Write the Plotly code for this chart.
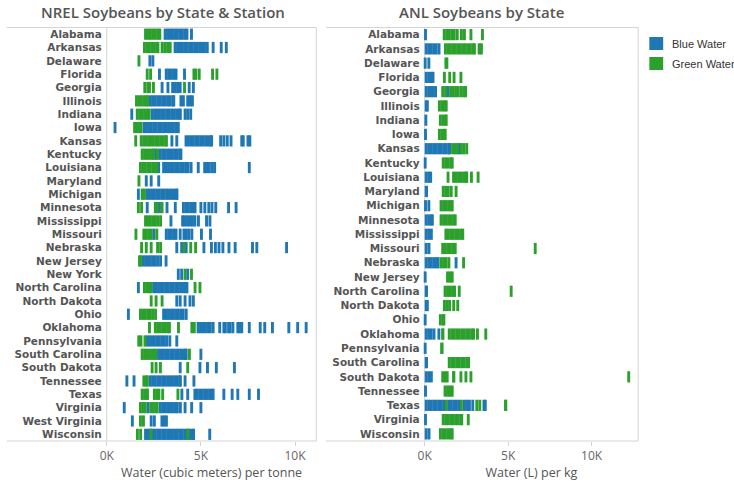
import plotly.graph_objects as go

W, H = 734, 484

NREL_STATES = ["Alabama", "Arkansas", "Delaware", "Florida", "Georgia", "Illinois", "Indiana", "Iowa",
               "Kansas", "Kentucky", "Louisiana", "Maryland", "Michigan", "Minnesota", "Mississippi",
               "Missouri", "Nebraska", "New Jersey", "New York", "North Carolina", "North Dakota", "Ohio",
               "Oklahoma", "Pennsylvania", "South Carolina", "South Dakota", "Tennessee", "Texas",
               "Virginia", "West Virginia", "Wisconsin"]

ANL_STATES = ["Alabama", "Arkansas", "Delaware", "Florida", "Georgia", "Illinois", "Indiana", "Iowa",
              "Kansas", "Kentucky", "Louisiana", "Maryland", "Michigan", "Minnesota", "Mississippi",
              "Missouri", "Nebraska", "New Jersey", "North Carolina", "North Dakota", "Ohio",
              "Oklahoma", "Pennsylvania", "South Carolina", "South Dakota", "Tennessee", "Texas",
              "Virginia", "Wisconsin"]

# NREL: water (thousand cubic meters per tonne), one value per station
NREL_BLUE = {
    "Alabama": [3.1, 3.23, 3.36, 3.49, 3.62, 3.75, 3.88, 4.01, 4.14, 4.26, 4.5],
    "Arkansas": [3.63, 3.76, 3.89, 4.02, 4.15, 4.28, 4.41, 4.54, 4.67, 4.8, 4.93, 5.06, 5.19, 5.34, 5.65, 6.08, 6.35],
    "Delaware": [2.29, 2.45],
    "Florida": [2.8, 3.16, 3.29, 3.42, 3.55, 3.68, 4.13],
    "Georgia": [2.94, 3.25, 3.5, 3.63, 3.76, 3.9, 4.38, 4.6],
    "Illinois": [2.32, 2.45, 2.58, 2.71, 2.84, 2.97, 3.1, 3.23, 3.36, 3.5, 3.56, 3.94, 4.07, 4.3, 4.43, 4.55],
    "Indiana": [1.33, 2.41, 2.54, 2.67, 2.8, 2.93, 3.06, 3.19, 3.32, 3.45, 3.58, 3.71, 3.84, 3.91, 4.16, 4.3, 4.46],
    "Iowa": [0.44, 1.98, 2.11, 2.24, 2.37, 2.5, 2.63, 2.76, 2.89, 3.02, 3.15, 3.28, 3.41, 3.54, 3.67, 3.8],
    "Kansas": [3.46, 3.72, 4.21, 4.34, 4.47, 4.6, 4.73, 4.86, 4.99, 5.12, 5.25, 5.38, 5.51, 5.57,
               6.05, 6.22, 6.4, 6.6, 7.17, 7.25, 7.5, 7.6],
    "Kentucky": [2.6, 2.84, 2.97, 3.1, 3.23, 3.36, 3.49, 3.62, 3.75, 3.88, 3.94],
    "Louisiana": [2.76, 3.02, 3.15, 3.28, 3.41, 3.54, 3.67, 3.8, 3.93, 4.06, 4.19, 4.32, 4.48, 4.86,
                  5.2, 5.32, 5.45, 5.6, 5.73, 7.57],
    "Maryland": [2.1, 2.36, 2.76],
    "Michigan": [1.68, 2.14, 2.27, 2.4, 2.53, 2.66, 2.79, 2.92, 3.05, 3.18, 3.31, 3.44, 3.57, 3.7, 3.73],
    "Minnesota": [2.15, 2.8, 3.2, 3.64, 4.07, 4.2, 4.33, 4.46, 4.59, 4.69, 5.0, 5.21, 5.42, 5.59, 5.79, 6.47, 6.87],
    "Mississippi": [3.41, 4.03, 4.16, 4.29, 4.42, 4.55, 4.68, 4.87, 5.3, 5.48],
    "Missouri": [2.5, 3.16, 3.29, 3.42, 3.55, 3.68, 3.9, 4.1, 4.23, 4.36, 4.52, 5.03, 5.51],
    "Nebraska": [3.72, 3.98, 4.22, 5.16, 5.56, 5.77, 5.96, 6.17, 6.49, 6.82, 7.74, 7.97, 9.55],
    "New Jersey": [1.93, 2.06, 2.19, 2.32, 2.45, 2.58, 2.71, 2.86, 3.15],
    "New York": [3.8, 3.98, 4.3],
    "North Carolina": [1.68, 2.49, 2.62, 2.75, 2.88, 3.01, 3.14, 3.27, 3.4, 3.53, 3.66, 3.79, 3.92, 4.05, 4.18, 4.26],
    "North Dakota": [3.72, 3.9, 4.16, 4.42, 4.6],
    "Ohio": [1.15, 3.02, 3.15, 3.28, 3.41, 3.54, 3.67, 3.8, 3.93, 4.06, 4.22],
    "Oklahoma": [4.85, 4.98, 5.11, 5.24, 5.37, 5.5, 5.65, 6.0, 6.22, 6.3, 6.47, 6.55, 6.7, 6.96, 7.05, 7.17, 7.57,
                 8.15, 8.39, 8.8, 9.67, 10.14, 10.59],
    "Pennsylvania": [2.14, 2.27, 2.4, 2.53, 2.66, 2.79, 2.92, 3.05, 3.18, 3.35, 3.72],
    "South Carolina": [2.75, 2.88, 3.01, 3.14, 3.27, 3.4, 3.53, 3.66, 3.79, 3.92, 4.05, 4.18, 4.22, 5.0],
    "South Dakota": [3.9, 4.95, 5.35, 5.82, 6.78],
    "Tennessee": [1.07, 1.45, 2.32, 2.45, 2.58, 2.71, 2.84, 2.97, 3.1, 3.23, 3.36, 3.49, 3.62, 3.75, 3.88, 3.91, 4.16, 4.63],
    "Texas": [3.99, 4.3, 4.68, 4.81, 4.94, 5.07, 5.2, 5.33, 5.46, 5.59, 5.65, 6.22, 6.66, 6.96, 7.57, 8.06],
    "Virginia": [0.93, 2.2, 2.84, 2.97, 3.1, 3.23, 3.36, 3.49, 3.62, 3.75, 3.91, 4.16, 4.51, 5.0],
    "West Virginia": [1.36, 2.36, 2.53, 2.93, 3.06, 3.17],
    "Wisconsin": [2.06, 2.19, 2.32, 2.45, 2.58, 2.71, 2.84, 2.97, 3.1, 3.23, 3.36, 3.49, 3.62, 3.75, 3.88, 4.01,
                  4.14, 4.27, 4.4, 4.53, 4.61, 5.47],
}

NREL_GREEN = {
    "Alabama": [2.06, 2.19, 2.32, 2.45, 2.58, 2.71, 2.82],
    "Arkansas": [2.0, 2.13, 2.26, 2.39, 2.52, 2.65, 2.72, 2.94, 3.08, 3.23, 3.37],
    "Delaware": [1.71],
    "Florida": [2.15, 2.33, 4.63, 4.73, 4.91, 5.62, 5.85],
    "Georgia": [2.02, 2.18, 2.27, 2.48, 4.13],
    "Illinois": [1.58, 1.71, 1.84, 1.97, 2.1, 2.17],
    "Indiana": [1.62, 1.75, 1.88, 2.01, 2.14, 2.25],
    "Iowa": [1.48, 1.61, 1.74, 1.82],
    "Kansas": [1.54, 1.83, 1.96, 2.09, 2.22, 2.35, 2.48, 2.61, 2.74, 2.87, 3.0, 3.13, 3.17],
    "Kentucky": [1.88, 2.01, 2.14, 2.27, 2.4, 2.48, 2.7],
    "Louisiana": [1.79, 1.92, 2.05, 2.18, 2.31, 2.44, 2.57, 2.66],
    "Maryland": [1.71],
    "Michigan": [1.88, 2.0],
    "Minnesota": [1.68, 1.85, 2.58, 2.68, 2.94],
    "Mississippi": [2.06, 2.19, 2.32, 2.45, 2.58, 2.71, 2.86],
    "Missouri": [1.55, 1.97, 2.1, 2.23, 2.36, 2.66],
    "Nebraska": [1.85, 2.1, 2.36, 2.7, 2.86, 4.1, 4.46, 4.72],
    "New Jersey": [1.74, 1.8],
    "New York": [4.16, 4.5],
    "North Carolina": [2.0, 2.13, 2.26, 2.35, 4.69, 4.95],
    "North Dakota": [2.36, 2.62, 2.94],
    "Ohio": [1.79, 1.92, 2.05, 2.18, 2.31, 2.44, 2.59],
    "Oklahoma": [2.27, 2.58, 2.71, 2.84, 2.97, 3.1, 3.23, 3.33, 3.81, 4.52, 4.65],
    "Pennsylvania": [1.7, 1.82, 2.03],
    "South Carolina": [1.88, 2.01, 2.14, 2.27, 2.4, 2.53, 2.6, 4.39],
    "South Dakota": [2.41, 2.62, 2.85, 4.3],
    "Tennessee": [1.97, 2.1, 2.16],
    "Texas": [1.88, 2.01, 2.14, 2.16, 2.53, 2.66, 2.77, 2.97, 3.78],
    "Virginia": [1.79, 1.92, 2.05, 2.35, 2.48, 2.61, 2.68],
    "West Virginia": [1.79, 1.95],
    "Wisconsin": [1.63, 1.8, 2.35, 4.3],
}

# ANL: water (thousand litres per kg)
ANL_BLUE = {
    "Alabama": [0.05],
    "Arkansas": [0.09, 0.24, 0.39, 0.54, 0.69, 0.86],
    "Delaware": [0.03, 0.25],
    "Florida": [0.09, 0.24, 0.39, 0.5],
    "Georgia": [0.09, 0.24, 0.39, 0.5, 0.65, 1.38],
    "Illinois": [0.09, 0.16],
    "Indiana": [0.07],
    "Iowa": [0.05],
    "Kansas": [0.09, 0.24, 0.39, 0.54, 0.69, 0.84, 0.99, 1.14, 1.29, 1.44, 1.49, 2.07],
    "Kentucky": [0.03],
    "Louisiana": [0.09, 0.24, 0.36],
    "Maryland": [0.09, 0.11],
    "Michigan": [0.05, 0.25],
    "Minnesota": [0.09, 0.24, 0.39, 0.46],
    "Mississippi": [0.09, 0.24, 0.4],
    "Missouri": [0.09, 0.26],
    "Nebraska": [0.09, 0.24, 0.39, 0.54, 0.69, 0.8, 1.88],
    "New Jersey": [0.03],
    "North Carolina": [0.09, 0.11],
    "North Dakota": [0.09, 0.16],
    "Ohio": [0.03],
    "Oklahoma": [0.09, 0.24, 0.39, 0.56, 0.85],
    "Pennsylvania": [0.03],
    "South Carolina": [0.09, 0.11],
    "South Dakota": [0.09, 0.24, 0.4],
    "Tennessee": [0.05],
    "Texas": [0.09, 0.24, 0.39, 0.54, 0.69, 0.84, 0.99, 1.14, 1.45, 1.6, 1.75, 1.9, 2.05, 2.38, 2.53, 2.68,
              2.88, 3.55, 3.63],
    "Virginia": [0.05],
    "Wisconsin": [0.09, 0.26],
}

ANL_GREEN = {
    "Alabama": [1.17, 1.32, 1.47, 1.62, 1.77, 1.95, 2.2, 2.38, 2.77, 3.46],
    "Arkansas": [1.24, 1.39, 1.54, 1.69, 1.84, 1.99, 2.14, 2.29, 2.44, 2.59, 2.74, 2.9, 2.98, 3.26, 3.4],
    "Delaware": [1.27, 1.33],
    "Florida": [1.18, 1.5, 1.76, 2.17],
    "Georgia": [1.08, 1.25, 1.55, 1.7, 1.85, 2.0, 2.17, 2.33, 2.45],
    "Illinois": [0.88, 1.03, 1.18, 1.29],
    "Indiana": [0.94, 1.09, 1.24, 1.29],
    "Iowa": [0.88, 1.03, 1.18, 1.23],
    "Kansas": [1.67, 1.82, 1.95, 2.2, 2.35, 2.52],
    "Kentucky": [1.11, 1.26, 1.41, 1.56, 1.65],
    "Louisiana": [1.4, 1.73, 1.88, 2.03, 2.18, 2.33, 2.48, 2.52, 2.8, 3.2],
    "Maryland": [1.11, 1.26, 1.41, 1.59, 1.88],
    "Michigan": [0.98, 1.13, 1.28, 1.43, 1.58, 1.65],
    "Minnesota": [0.98, 1.13, 1.28, 1.43, 1.58, 1.73, 1.83],
    "Mississippi": [1.27, 1.42, 1.57, 1.72, 1.87, 2.02, 2.17, 2.28],
    "Missouri": [1.08, 1.23, 1.38, 1.53, 1.68, 1.83, 6.62],
    "Nebraska": [0.98, 1.13, 1.28, 1.45, 2.33],
    "New Jersey": [1.37, 1.52, 1.65],
    "North Carolina": [1.22, 1.37, 1.52, 1.67, 1.79, 2.07, 5.18],
    "North Dakota": [1.18, 1.33, 1.49, 1.74, 1.98],
    "Ohio": [0.94, 1.09, 1.15],
    "Oklahoma": [1.08, 1.09, 1.47, 1.62, 1.77, 1.92, 2.07, 2.22, 2.37, 2.52, 2.67, 2.82, 2.93, 3.16, 3.66],
    "Pennsylvania": [1.02, 1.04],
    "South Carolina": [1.47, 1.62, 1.77, 1.92, 2.07, 2.22, 2.37, 2.52, 2.63],
    "South Dakota": [1.08, 1.23, 1.35, 1.73, 1.75, 2.17, 2.47, 2.77, 12.22],
    "Tennessee": [1.22, 1.37, 1.52, 1.65],
    "Texas": [1.3, 2.2, 3.12, 3.3, 4.84, 4.86],
    "Virginia": [1.11, 1.26, 1.41, 1.56, 1.71, 1.86, 2.01, 2.16, 2.22, 2.61],
    "Wisconsin": [0.94, 1.09, 1.24, 1.39, 1.54, 1.65],
}

TICK_VALS = [0, 5, 10]
TICK_TEXT = ["0K", "5K", "10K"]

BLUE = "#1f77b4"
GREEN = "#2ca02c"
BORDER = "#d4d4d4"


def px_x(p):
    return p / W


def px_y(p):
    return 1 - p / H


def flatten(d, states):
    xs, ys = [], []
    for s in states:
        for v in d.get(s, []):
            xs.append(v)
            ys.append(s)
    return xs, ys


fig = go.Figure()


def add_ticks(d, states, color, xa, ya, name, size):
    xs, ys = flatten(d, states)
    fig.add_trace(go.Scatter(
        x=xs, y=ys, mode="markers", name=name, showlegend=False,
        xaxis=xa, yaxis=ya, cliponaxis=False,
        marker=dict(symbol="line-ns", size=size, color=color,
                    line=dict(width=2.9, color=color)),
        hovertemplate="%{y}: %{x:.2f}K<extra>" + name + "</extra>",
    ))


add_ticks(NREL_BLUE, NREL_STATES, BLUE, "x", "y", "Blue Water", 8)
add_ticks(NREL_GREEN, NREL_STATES, GREEN, "x", "y", "Green Water", 8)
add_ticks(ANL_BLUE, ANL_STATES, BLUE, "x2", "y2", "Blue Water", 8)
add_ticks(ANL_GREEN, ANL_STATES, GREEN, "x2", "y2", "Green Water", 8)

TOP, BOT = 27.5, 441.0
L1, R1 = 100.7, 312.3
L2, R2 = 421.7, 637.3

xaxis_common = dict(
    tickvals=TICK_VALS, ticktext=TICK_TEXT, showgrid=False, zeroline=False,
    showline=False, ticks="outside", ticklen=4, tickcolor=BORDER,
    tickfont=dict(family="Open Sans", size=12, color="#666666"),
    title_font=dict(family="Open Sans", size=12.5, color="#555555"),
    title_standoff=4, fixedrange=True,
)
yaxis_common = dict(
    type="category", showgrid=False, zeroline=False, showline=False, ticks="",
    tickfont=dict(family="DejaVu Sans", size=10.5, color="#555555", weight="bold"),
    ticklabelstandoff=4, fixedrange=True,
)

fig.update_layout(
    width=W, height=H, margin=dict(l=0, r=0, t=0, b=0, pad=0),
    paper_bgcolor="white", plot_bgcolor="white",
    xaxis=dict(domain=[px_x(L1), px_x(R1)], range=[0, 11.13],
               title_text="Water (cubic meters) per tonne", anchor="y", **xaxis_common),
    yaxis=dict(domain=[px_y(BOT), px_y(TOP)], categoryarray=NREL_STATES, categoryorder="array",
               range=[len(NREL_STATES) - 0.5, -0.5], anchor="x", **yaxis_common),
    xaxis2=dict(domain=[px_x(L2), px_x(R2)], range=[0, 12.79],
                title_text="Water (L) per kg", anchor="y2", **xaxis_common),
    yaxis2=dict(domain=[px_y(BOT), px_y(TOP)], categoryarray=ANL_STATES, categoryorder="array",
                range=[len(ANL_STATES) - 0.5, -0.5], anchor="x2", **yaxis_common),
    showlegend=False,
)

shapes = []


def hline(x0, x1, y):
    shapes.append(dict(type="line", xref="paper", yref="paper", x0=px_x(x0), x1=px_x(x1),
                       y0=px_y(y), y1=px_y(y), line=dict(color=BORDER, width=1), layer="below"))


def vline(x, y0, y1):
    shapes.append(dict(type="line", xref="paper", yref="paper", x0=px_x(x), x1=px_x(x),
                       y0=px_y(y0), y1=px_y(y1), line=dict(color=BORDER, width=1), layer="below"))


hline(0, R1, TOP)
hline(0, R1, BOT)
vline(L1, TOP, BOT)
vline(R1, TOP, BOT)
hline(322, R2, TOP)
hline(322, R2, BOT)
vline(L2, TOP, BOT)
vline(R2, TOP, BOT)

# legend swatches
for (y0, y1, c) in [(37, 50, BLUE), (57, 70, GREEN)]:
    shapes.append(dict(type="rect", xref="paper", yref="paper", x0=px_x(648.5), x1=px_x(662.5),
                       y0=px_y(y1), y1=px_y(y0), fillcolor=c, line=dict(width=0)))
fig.update_layout(shapes=shapes)

annotations = [
    dict(text="NREL Soybeans by State & Station", x=px_x(157), y=px_y(12), xref="paper", yref="paper",
         showarrow=False, xanchor="center", yanchor="middle",
         font=dict(family="Open Sans", size=15, color="#555555", weight=600)),
    dict(text="ANL Soybeans by State", x=px_x(479), y=px_y(12), xref="paper", yref="paper",
         showarrow=False, xanchor="center", yanchor="middle",
         font=dict(family="Open Sans", size=15, color="#555555", weight=600)),
    dict(text="Blue Water", x=px_x(669), y=px_y(44), xref="paper", yref="paper",
         showarrow=False, xanchor="left", yanchor="middle",
         font=dict(family="Liberation Sans", size=11, color="#333333")),
    dict(text="Green Water", x=px_x(669), y=px_y(63.5), xref="paper", yref="paper",
         showarrow=False, xanchor="left", yanchor="middle",
         font=dict(family="Liberation Sans", size=11, color="#333333")),
]
fig.update_layout(annotations=annotations)

fig.write_html("out.html")
